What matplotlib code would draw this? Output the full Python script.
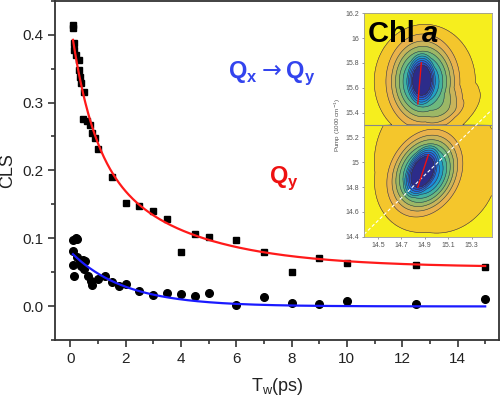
import numpy as np
import matplotlib
matplotlib.use("Agg")
import matplotlib.pyplot as plt
from matplotlib.ticker import MultipleLocator, FormatStrFormatter

plt.rcParams['font.family'] = ['Liberation Sans', 'DejaVu Sans']

# Qy CLS values (squares)
qy_t = [0.1, 0.1, 0.15, 0.15, 0.2, 0.3, 0.3, 0.35, 0.4, 0.5, 0.45, 0.6, 0.7, 0.8,
        0.9, 1.0, 1.5, 2, 2.5, 3, 3.5, 4, 4.5, 5, 6, 7, 8, 9, 10, 12.5, 15]
qy_cls = [0.41, 0.415, 0.388, 0.378, 0.37, 0.363, 0.348, 0.338, 0.329, 0.316, 0.276,
          0.2735, 0.267, 0.255, 0.2475, 0.231, 0.191, 0.152, 0.148, 0.140, 0.128,
          0.080, 0.106, 0.1025, 0.0975, 0.080, 0.050, 0.071, 0.064, 0.0605, 0.058]

# Qx->Qy CLS values (circles)
qxy_t = [0.1, 0.2, 0.25, 0.1, 0.1, 0.12, 0.25, 0.35, 0.45, 0.55, 0.5, 0.4, 0.65,
         0.75, 0.8, 1.0, 1.25, 1.5, 1.75, 2, 2.5, 3, 3.5, 4, 4.5, 5, 6, 7, 8, 9,
         10, 12.5, 15]
qxy_cls = [0.098, 0.1, 0.099, 0.081, 0.060, 0.045, 0.073, 0.066, 0.068, 0.066,
           0.054, 0.059, 0.044, 0.037, 0.031, 0.040, 0.044, 0.035, 0.029, 0.032,
           0.022, 0.017, 0.019, 0.018, 0.015, 0.019, 0.002, 0.014, 0.005, 0.0035,
           0.0074, 0.0025, 0.01]

# exponential fit parameters: offset, (amplitude, tau) pairs
qy_fit = [0.057, (0.185, 0.776), (0.178, 3.37)]
qxy_fit = [-0.0005, (0.081, 1.95)]

# inset 2D spectrum peaks: (x0, y0, reach along angle, reach across, angle_deg, weight)
upper_peaks = [(14.87, 15.67, 0.22, 0.12, 88, 0.35),
               (14.88, 15.65, 0.45, 0.36, 90, 0.50),
               (14.90, 15.65, 0.50, 0.47, 90, 0.15),
               (15.15, 15.42, 0.30, 0.15, 40, 0.12)]
lower_peaks = [(14.87, 14.93, 0.24, 0.12, 62, 0.35),
               (14.89, 14.91, 0.42, 0.32, 56, 0.50),
               (14.92, 14.90, 0.50, 0.42, 50, 0.15),
               (15.00, 15.00, 0.75, 0.70, 90, 0.05)]
panel_split = 15.3
contour_levels = [0.012, 0.11, 0.19, 0.25, 0.305, 0.36, 0.415, 0.47, 0.525,
                  0.58, 0.635]
spectrum_colors = ['#f6ee1e', '#f4c62c', '#e9b24c', '#c9b45a', '#9cb766', '#6eb87e',
                   '#42b2a0', '#22a0c6', '#1c84dc', '#2266dc', '#2a48c0', '#2c2c8a']


def fit_curve(t, p):
    y = np.full_like(t, p[0])
    for a, tau in p[1:]:
        y = y + a * np.exp(-t / tau)
    return y


def peak_field(X, Y, peaks):
    Z = np.zeros_like(X)
    for x0, y0, s1, s2, ang, w in peaks:
        th = np.deg2rad(ang)
        u = (X - x0) * np.cos(th) + (Y - y0) * np.sin(th)
        v = -(X - x0) * np.sin(th) + (Y - y0) * np.cos(th)
        r = np.sqrt((u / s1) ** 2 + (v / s2) ** 2)
        Z = Z + w * np.clip(1 - r, 0, None)
    return Z


fig = plt.figure(figsize=(5, 4), dpi=100)
ax = fig.add_axes([0.11, 0.15, 0.888, 0.848])

tt = np.linspace(0.1, 15, 400)
ax.plot(tt, fit_curve(tt, qy_fit), color='#ff1a1a', lw=1.6, zorder=3)
ax.plot(tt, fit_curve(tt, qxy_fit), color='#1a1aff', lw=1.6, zorder=3)
ax.plot(qy_t, qy_cls, 's', color='black', ms=5, zorder=2)
ax.plot(qxy_t, qxy_cls, 'o', color='black', ms=5.5, zorder=2)

ax.set_xlim(-0.55, 15.5)
ax.set_ylim(-0.05, 0.45)
ax.xaxis.set_major_locator(MultipleLocator(2))
ax.xaxis.set_minor_locator(MultipleLocator(1))
ax.yaxis.set_major_locator(MultipleLocator(0.1))
ax.yaxis.set_minor_locator(MultipleLocator(0.05))
ax.yaxis.set_major_formatter(FormatStrFormatter('%.1f'))
ax.tick_params(which='both', direction='out', colors='#333333', width=1.2,
               labelsize=11, labelcolor='#222222')
ax.tick_params(which='major', length=5)
ax.tick_params(which='minor', length=3)
for s in ax.spines.values():
    s.set_color('#333333')
    s.set_linewidth(1.3)
ax.set_ylabel('CLS', fontsize=13, color='#222222')
ax.set_xlabel(r'T$_\mathregular{w}$(ps)', fontsize=13, color='#222222', labelpad=7)

ax.text(5.72, 0.336, r'Q$_\mathregular{x}$$\rightarrow$Q$_\mathregular{y}$', color='#3344ee',
        fontsize=17, fontweight='bold', ha='left', va='baseline')
ax.text(7.2, 0.181, r'Q$_\mathregular{y}$', color='#ee1111', fontsize=17,
        fontweight='bold', ha='left', va='baseline')

# white background behind the inset
fig.patches.append(plt.Rectangle((0.668, 0.385), 0.325, 0.61, transform=fig.transFigure,
                                 facecolor='white', edgecolor='none', zorder=4))

ins = fig.add_axes([0.728, 0.408, 0.255, 0.559], zorder=5)
xs = np.linspace(14.38, 15.47, 300)
ys = np.linspace(14.4, 16.2, 400)
X, Y = np.meshgrid(xs, ys)
Z = np.where(Y >= panel_split, peak_field(X, Y, upper_peaks), peak_field(X, Y, lower_peaks))
levels = [-1.0] + contour_levels + [2.0]
ins.contourf(X, Y, Z, levels=levels, colors=spectrum_colors)
ins.contour(X, Y, Z, levels=contour_levels, colors='#3a3a3a', linewidths=0.4)
ins.axhline(panel_split, color='#888888', lw=0.8)
ins.plot([14.38, 15.47], [14.42, 15.42], color='white', lw=0.8, ls=(0, (3, 2)))
ins.plot([14.84, 14.87], [15.47, 15.80], color='#ee1111', lw=1.0)
ins.plot([14.84, 14.93], [14.80, 15.06], color='#ee1111', lw=1.0)
ins.set_xlim(14.38, 15.47)
ins.set_ylim(14.4, 16.2)
ins.set_xticks([14.5, 14.7, 14.9, 15.1, 15.3])
ins.set_xticklabels(['14.5', '14.7', '14.9', '15.1', '15.3'])
ins.set_yticks([14.4, 14.6, 14.8, 15.0, 15.2, 15.4, 15.6, 15.8, 16.0, 16.2])
ins.set_yticklabels(['14.4', '14.6', '14.8', '15', '15.2', '15.4', '15.6', '15.8', '16', '16.2'])
ins.tick_params(labelsize=5, length=1.5, width=0.4, colors='#555555', pad=2)
for s in ins.spines.values():
    s.set_color('#999999')
    s.set_linewidth(0.6)
ins.set_ylabel('Pump (1000 cm$^{-1}$)', fontsize=4.5, color='#555555', labelpad=2)
ins.text(0.03, 0.97, 'Chl ', transform=ins.transAxes, fontsize=21, fontweight='bold',
         ha='left', va='top', color='black')
ins.text(0.455, 0.97, 'a', transform=ins.transAxes, fontsize=21, fontweight='bold',
         fontstyle='italic', ha='left', va='top', color='black')

fig.savefig('out.png', dpi=100)
